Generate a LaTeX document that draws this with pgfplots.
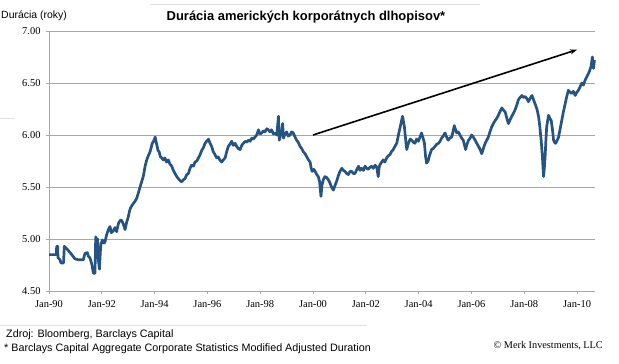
\documentclass[border=0pt]{standalone}
\usepackage{fontspec}
\setmainfont{Liberation Sans}
\newfontfamily\timesfont{Liberation Serif}
\usepackage{pgfplots}
\pgfplotsset{compat=1.18}
\usetikzlibrary{arrows.meta}
\definecolor{lineblue}{RGB}{38,84,130}
\definecolor{gridgray}{RGB}{168,168,168}
\definecolor{sepgray}{RGB}{225,225,225}
\begin{document}
\begin{tikzpicture}[x=1bp,y=1bp]
\path[use as bounding box] (0,0) rectangle (619,363);
\draw[sepgray, line width=0.8bp] (150,359) -- (480,359);
\draw[sepgray, line width=0.8bp] (0,38) -- (367,38);
\draw[sepgray, line width=0.8bp] (0,245) -- (15,245);
\begin{axis}[
  at={(49bp,72bp)}, anchor=south west, scale only axis,
  width=546bp, height=260bp,
  xmin=1990, xmax=2010.68, ymin=4.5, ymax=7,
  axis x line*=bottom, axis y line*=left,
  axis line style={gridgray, line width=1bp},
  ymajorgrids=true,
  major grid style={gridgray, line width=0.9bp},
  xtick={1990,1992,1994,1996,1998,2000,2002,2004,2006,2008,2010},
  xticklabels={Jan-90,Jan-92,Jan-94,Jan-96,Jan-98,Jan-00,Jan-02,Jan-04,Jan-06,Jan-08,Jan-10},
  ytick={4.5,5,5.5,6,6.5,7},
  yticklabels={4.50,5.00,5.50,6.00,6.50,7.00},
  tick align=outside, major tick length=3bp,
  tick style={gridgray, line width=0.8bp},
  tick label style={font=\timesfont\fontsize{10.5}{12}\selectfont},
  xticklabel style={yshift=-3bp},
  yticklabel style={xshift=-2bp},
  clip=false,
]
\addplot[lineblue, line width=2.7bp, line join=round] coordinates {
(1990.00,4.85)(1990.28,4.85)(1990.29,4.93)(1990.33,4.93)(1990.34,4.82)(1990.42,4.80)(1990.45,4.77)(1990.55,4.77)
(1990.58,4.93)(1990.66,4.91)(1990.73,4.89)(1990.86,4.85)(1990.98,4.81)(1991.11,4.80)(1991.30,4.80)(1991.36,4.86)
(1991.45,4.87)(1991.50,4.83)(1991.55,4.82)(1991.62,4.76)(1991.68,4.67)(1991.74,4.67)(1991.77,5.02)(1991.80,4.98)
(1991.84,5.00)(1991.87,4.80)(1991.91,4.71)(1991.95,4.90)(1991.97,4.95)(1992.02,4.99)(1992.08,4.96)(1992.12,4.97)
(1992.18,5.04)(1992.25,5.09)(1992.31,5.12)(1992.36,5.06)(1992.44,5.08)(1992.50,5.11)(1992.56,5.07)(1992.63,5.15)
(1992.70,5.18)(1992.75,5.18)(1992.82,5.14)(1992.88,5.09)(1992.94,5.16)(1993.00,5.21)(1993.06,5.28)(1993.11,5.31)
(1993.19,5.34)(1993.25,5.36)(1993.32,5.39)(1993.38,5.44)(1993.45,5.50)(1993.52,5.56)(1993.57,5.60)(1993.64,5.70)
(1993.70,5.76)(1993.76,5.80)(1993.83,5.84)(1993.91,5.92)(1993.96,5.94)(1994.02,5.98)(1994.06,5.93)(1994.09,5.90)
(1994.13,5.85)(1994.17,5.84)(1994.22,5.79)(1994.27,5.78)(1994.33,5.76)(1994.39,5.78)(1994.45,5.74)(1994.52,5.76)
(1994.58,5.72)(1994.65,5.70)(1994.71,5.66)(1994.77,5.63)(1994.84,5.60)(1994.90,5.58)(1994.97,5.56)(1995.03,5.55)
(1995.09,5.57)(1995.15,5.58)(1995.22,5.62)(1995.28,5.63)(1995.34,5.68)(1995.40,5.71)(1995.47,5.70)(1995.53,5.74)
(1995.60,5.75)(1995.66,5.78)(1995.72,5.81)(1995.78,5.85)(1995.85,5.88)(1995.91,5.92)(1995.97,5.94)(1996.04,5.96)
(1996.10,5.92)(1996.16,5.89)(1996.22,5.84)(1996.29,5.81)(1996.35,5.78)(1996.41,5.79)(1996.47,5.76)(1996.54,5.74)
(1996.60,5.76)(1996.67,5.78)(1996.73,5.84)(1996.79,5.89)(1996.85,5.91)(1996.92,5.94)(1996.98,5.90)(1997.05,5.92)
(1997.11,5.89)(1997.17,5.87)(1997.24,5.86)(1997.30,5.90)(1997.36,5.92)(1997.43,5.94)(1997.49,5.93)(1997.55,5.95)
(1997.62,5.94)(1997.68,5.97)(1997.74,5.96)(1997.80,5.98)(1997.87,6.00)(1997.93,6.05)(1998.00,6.01)(1998.06,6.02)
(1998.12,6.04)(1998.18,6.03)(1998.25,6.06)(1998.31,6.05)(1998.37,6.03)(1998.43,6.05)(1998.50,6.01)(1998.56,6.02)
(1998.63,6.00)(1998.69,6.18)(1998.72,5.95)(1998.76,5.99)(1998.80,6.02)(1998.85,6.11)(1998.88,5.97)(1998.94,6.01)
(1999.00,6.03)(1999.06,5.99)(1999.13,6.00)(1999.19,6.03)(1999.25,6.02)(1999.32,5.98)(1999.38,5.95)(1999.44,5.93)
(1999.51,5.89)(1999.57,5.87)(1999.63,5.84)(1999.70,5.82)(1999.76,5.79)(1999.83,5.76)(1999.89,5.74)(1999.93,5.68)
(1999.97,5.65)(2000.03,5.67)(2000.08,5.65)(2000.14,5.62)(2000.20,5.60)(2000.25,5.55)(2000.30,5.41)(2000.34,5.52)
(2000.39,5.57)(2000.45,5.60)(2000.52,5.59)(2000.58,5.57)(2000.64,5.54)(2000.70,5.50)(2000.77,5.47)(2000.84,5.52)
(2000.90,5.56)(2000.96,5.61)(2001.02,5.65)(2001.09,5.68)(2001.15,5.66)(2001.21,5.65)(2001.27,5.63)(2001.34,5.62)
(2001.40,5.65)(2001.46,5.65)(2001.53,5.63)(2001.59,5.63)(2001.66,5.67)(2001.72,5.70)(2001.78,5.66)(2001.84,5.68)
(2001.91,5.66)(2001.97,5.70)(2002.03,5.68)(2002.09,5.67)(2002.16,5.69)(2002.22,5.70)(2002.28,5.68)(2002.35,5.71)
(2002.41,5.69)(2002.47,5.60)(2002.51,5.70)(2002.57,5.73)(2002.66,5.76)(2002.72,5.74)(2002.79,5.78)(2002.85,5.80)
(2002.91,5.81)(2002.97,5.84)(2003.04,5.86)(2003.10,5.89)(2003.17,5.92)(2003.26,6.03)(2003.33,6.11)(2003.39,6.18)
(2003.46,6.08)(2003.51,5.95)(2003.55,5.86)(2003.61,5.92)(2003.68,5.96)(2003.74,5.95)(2003.80,5.93)(2003.86,5.92)
(2003.92,5.96)(2003.99,5.94)(2004.05,5.98)(2004.11,6.02)(2004.18,5.96)(2004.22,5.92)(2004.26,5.80)(2004.30,5.73)
(2004.36,5.75)(2004.42,5.81)(2004.49,5.86)(2004.55,5.87)(2004.62,5.89)(2004.68,5.91)(2004.75,5.92)(2004.81,5.94)
(2004.87,5.97)(2004.93,5.99)(2005.00,6.02)(2005.06,5.98)(2005.12,5.95)(2005.18,5.97)(2005.25,5.98)(2005.30,6.03)
(2005.35,6.09)(2005.40,6.05)(2005.44,6.02)(2005.50,6.03)(2005.57,6.00)(2005.63,5.97)(2005.69,5.95)(2005.74,5.90)
(2005.78,5.86)(2005.83,5.91)(2005.89,5.95)(2005.95,5.97)(2006.01,6.00)(2006.07,5.98)(2006.14,5.95)(2006.20,5.92)
(2006.27,5.89)(2006.33,5.86)(2006.39,5.82)(2006.45,5.87)(2006.52,5.92)(2006.58,5.95)(2006.64,5.98)(2006.70,6.03)
(2006.77,6.08)(2006.83,6.11)(2006.90,6.14)(2006.96,6.16)(2007.02,6.19)(2007.09,6.23)(2007.15,6.26)(2007.21,6.24)
(2007.28,6.22)(2007.34,6.16)(2007.40,6.11)(2007.47,6.15)(2007.53,6.18)(2007.59,6.21)(2007.65,6.24)(2007.72,6.29)
(2007.78,6.34)(2007.84,6.36)(2007.91,6.38)(2007.97,6.36)(2008.03,6.37)(2008.10,6.35)(2008.16,6.32)(2008.22,6.35)
(2008.29,6.38)(2008.35,6.34)(2008.41,6.30)(2008.48,6.25)(2008.54,6.18)(2008.59,6.08)(2008.64,5.95)(2008.69,5.78)
(2008.73,5.60)(2008.76,5.68)(2008.79,5.79)(2008.82,5.95)(2008.85,6.08)(2008.92,6.19)(2008.97,6.16)(2009.02,6.14)
(2009.07,6.05)(2009.11,5.95)(2009.15,5.93)(2009.19,5.92)(2009.25,5.95)(2009.30,5.98)(2009.36,6.06)(2009.42,6.14)
(2009.48,6.22)(2009.55,6.30)(2009.61,6.37)(2009.67,6.43)(2009.74,6.41)(2009.80,6.40)(2009.86,6.42)(2009.93,6.38)
(2009.99,6.41)(2010.05,6.43)(2010.11,6.46)(2010.18,6.50)(2010.24,6.48)(2010.31,6.53)(2010.37,6.56)(2010.43,6.59)
(2010.48,6.62)(2010.53,6.66)(2010.58,6.75)(2010.62,6.64)(2010.66,6.72)
};
\draw[-{Stealth[length=7bp,width=5bp]}, line width=1.6bp, black] (axis cs:2000,6.0) -- (axis cs:2010,6.82);
\end{axis}
\node[font=\bfseries\fontsize{13}{15}\selectfont] at (306,346) {Durácia amerických korporátnych dlhopisov*};
\node[anchor=west, inner sep=0pt, font=\fontsize{10.5}{12}\selectfont] at (1,347) {Durácia (roky)};
\node[anchor=west, inner sep=0pt, font=\fontsize{10.8}{12}\selectfont] at (6,28) {Zdroj: Bloomberg, Barclays Capital};
\node[anchor=west, inner sep=0pt, font=\fontsize{10.8}{12}\selectfont] at (4,14) {* Barclays Capital Aggregate Corporate Statistics Modified Adjusted Duration};
\node[anchor=east, inner sep=0pt, font=\timesfont\fontsize{10.3}{12}\selectfont] at (603,17) {© Merk Investments, LLC};
\end{tikzpicture}
\end{document}
